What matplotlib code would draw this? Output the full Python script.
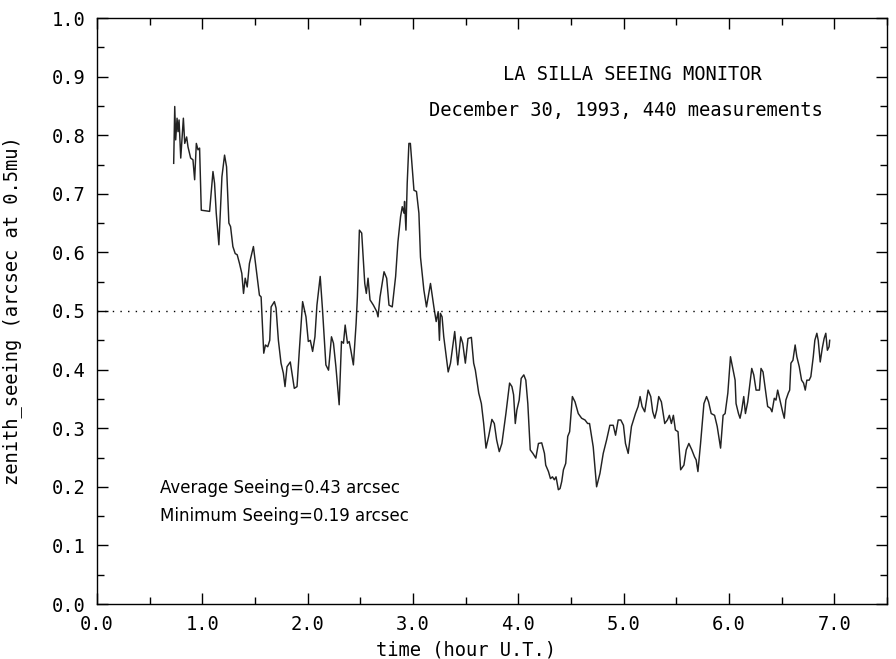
import matplotlib
matplotlib.use('Agg')
import matplotlib.pyplot as plt
from matplotlib.ticker import MultipleLocator
import numpy as np

time_h = [0.728, 0.738, 0.747, 0.760, 0.769, 0.779, 0.795, 0.820, 0.833, 0.851,
          0.864, 0.889, 0.911, 0.927, 0.943, 0.959, 0.974, 0.990, 1.069, 1.101,
          1.116, 1.132, 1.157, 1.186, 1.211, 1.230, 1.252, 1.268, 1.290, 1.312,
          1.331, 1.353, 1.375, 1.391, 1.407, 1.426, 1.447, 1.485, 1.520, 1.542,
          1.558, 1.583, 1.599, 1.621, 1.640, 1.653, 1.684, 1.700, 1.722, 1.747,
          1.769, 1.785, 1.804, 1.835, 1.851, 1.873, 1.899, 1.921, 1.952, 1.984,
          2.006, 2.025, 2.047, 2.069, 2.088, 2.119, 2.141, 2.173, 2.198, 2.226,
          2.245, 2.268, 2.299, 2.321, 2.340, 2.356, 2.378, 2.394, 2.410, 2.434,
          2.460, 2.472, 2.491, 2.513, 2.542, 2.557, 2.573, 2.592, 2.624, 2.656,
          2.668, 2.687, 2.725, 2.750, 2.772, 2.803, 2.835, 2.857, 2.882, 2.898,
          2.914, 2.920, 2.933, 2.945, 2.961, 2.975, 3.009, 3.033, 3.056, 3.071,
          3.103, 3.128, 3.166, 3.198, 3.220, 3.239, 3.251, 3.260, 3.276, 3.292,
          3.308, 3.334, 3.356, 3.396, 3.425, 3.453, 3.472, 3.497, 3.522, 3.554,
          3.576, 3.592, 3.624, 3.649, 3.671, 3.693, 3.718, 3.749, 3.772, 3.794,
          3.819, 3.844, 3.882, 3.917, 3.939, 3.955, 3.971, 3.986, 4.008, 4.027,
          4.052, 4.071, 4.090, 4.113, 4.138, 4.166, 4.191, 4.222, 4.248, 4.260,
          4.286, 4.305, 4.324, 4.342, 4.358, 4.380, 4.396, 4.412, 4.428, 4.450,
          4.469, 4.487, 4.513, 4.538, 4.569, 4.601, 4.633, 4.658, 4.676, 4.711,
          4.743, 4.775, 4.806, 4.838, 4.869, 4.901, 4.923, 4.948, 4.973, 4.998,
          5.017, 5.043, 5.074, 5.112, 5.137, 5.156, 5.175, 5.200, 5.232, 5.257,
          5.276, 5.295, 5.314, 5.333, 5.358, 5.390, 5.415, 5.434, 5.453, 5.472,
          5.491, 5.516, 5.541, 5.572, 5.594, 5.619, 5.647, 5.673, 5.688, 5.705,
          5.730, 5.762, 5.787, 5.806, 5.831, 5.863, 5.888, 5.920, 5.944, 5.963,
          5.989, 6.014, 6.036, 6.058, 6.067, 6.090, 6.105, 6.121, 6.140, 6.156,
          6.178, 6.203, 6.216, 6.235, 6.257, 6.289, 6.304, 6.323, 6.346, 6.367,
          6.393, 6.408, 6.430, 6.446, 6.462, 6.487, 6.509, 6.525, 6.540, 6.563,
          6.576, 6.588, 6.607, 6.628, 6.644, 6.667, 6.689, 6.708, 6.724, 6.739,
          6.761, 6.777, 6.800, 6.815, 6.834, 6.847, 6.866, 6.885, 6.903, 6.919,
          6.934, 6.950, 6.956]
seeing = [0.752, 0.849, 0.792, 0.829, 0.806, 0.826, 0.761, 0.829, 0.786, 0.797,
          0.780, 0.761, 0.758, 0.724, 0.786, 0.775, 0.778, 0.672, 0.670, 0.738,
          0.718, 0.667, 0.613, 0.729, 0.766, 0.746, 0.650, 0.644, 0.610, 0.598,
          0.596, 0.581, 0.564, 0.530, 0.556, 0.541, 0.581, 0.610, 0.559, 0.527,
          0.524, 0.428, 0.442, 0.439, 0.450, 0.507, 0.516, 0.505, 0.450, 0.411,
          0.394, 0.371, 0.405, 0.413, 0.394, 0.368, 0.371, 0.433, 0.516, 0.490,
          0.448, 0.450, 0.431, 0.456, 0.510, 0.559, 0.502, 0.408, 0.399, 0.456,
          0.445, 0.405, 0.340, 0.448, 0.445, 0.476, 0.445, 0.448, 0.433, 0.408,
          0.479, 0.524, 0.638, 0.633, 0.547, 0.530, 0.556, 0.519, 0.510, 0.499,
          0.490, 0.524, 0.567, 0.556, 0.510, 0.507, 0.559, 0.618, 0.661, 0.678,
          0.667, 0.687, 0.638, 0.718, 0.786, 0.786, 0.706, 0.704, 0.667, 0.592,
          0.536, 0.507, 0.547, 0.507, 0.482, 0.499, 0.450, 0.496, 0.490, 0.456,
          0.433, 0.396, 0.411, 0.465, 0.408, 0.456, 0.445, 0.411, 0.453, 0.455,
          0.411, 0.399, 0.360, 0.342, 0.308, 0.266, 0.286, 0.315, 0.308, 0.280,
          0.260, 0.274, 0.325, 0.377, 0.371, 0.357, 0.308, 0.331, 0.348, 0.385,
          0.391, 0.382, 0.342, 0.263, 0.257, 0.249, 0.274, 0.275, 0.257, 0.237,
          0.226, 0.214, 0.217, 0.212, 0.217, 0.195, 0.197, 0.209, 0.229, 0.240,
          0.286, 0.294, 0.354, 0.345, 0.325, 0.317, 0.314, 0.308, 0.308, 0.268,
          0.200, 0.223, 0.257, 0.280, 0.305, 0.305, 0.288, 0.314, 0.314, 0.305,
          0.274, 0.257, 0.303, 0.325, 0.337, 0.354, 0.337, 0.328, 0.365, 0.354,
          0.328, 0.317, 0.331, 0.354, 0.345, 0.308, 0.314, 0.322, 0.308, 0.322,
          0.297, 0.294, 0.229, 0.237, 0.263, 0.274, 0.263, 0.251, 0.246, 0.226,
          0.274, 0.342, 0.354, 0.345, 0.325, 0.322, 0.303, 0.266, 0.322, 0.325,
          0.360, 0.422, 0.402, 0.382, 0.342, 0.325, 0.317, 0.331, 0.354, 0.325,
          0.345, 0.382, 0.402, 0.391, 0.365, 0.365, 0.402, 0.396, 0.365, 0.337,
          0.334, 0.328, 0.351, 0.348, 0.365, 0.345, 0.328, 0.317, 0.348, 0.360,
          0.365, 0.411, 0.416, 0.442, 0.422, 0.405, 0.382, 0.377, 0.365, 0.382,
          0.382, 0.388, 0.422, 0.450, 0.462, 0.450, 0.413, 0.436, 0.453, 0.462,
          0.433, 0.439, 0.450]

x_ticks = [0, 1, 2, 3, 4, 5, 6, 7]
y_ticks = [0.0, 0.1, 0.2, 0.3, 0.4, 0.5, 0.6, 0.7, 0.8, 0.9, 1.0]
reference_seeing = 0.5
title_lines = ['LA SILLA SEEING MONITOR', 'December 30, 1993, 440 measurements']
stats_lines = ['Average Seeing=0.43 arcsec', 'Minimum Seeing=0.19 arcsec']

plt.rcParams['font.family'] = ['DejaVu Sans Mono']
fs = 13.5

fig = plt.figure(figsize=(8.96, 6.59), dpi=100)
ax = fig.add_axes([97 / 896, 55 / 659, 790 / 896, 586 / 659])

ax.plot(time_h, seeing, color='#222222', lw=1.05)
ax.axhline(reference_seeing, color='black', lw=1.0, linestyle=(0, (1, 4.5)))

ax.set_xlim(0, 7.5)
ax.set_ylim(0, 1.0)
ax.set_xticks(x_ticks)
ax.set_xticklabels(['%.1f' % v for v in x_ticks], fontsize=fs)
ax.set_yticks(y_ticks)
ax.set_yticklabels(['%.1f' % v for v in y_ticks], fontsize=fs)
ax.xaxis.set_minor_locator(MultipleLocator(0.5))
ax.yaxis.set_minor_locator(MultipleLocator(0.05))
ax.tick_params(which='both', direction='in', top=True, right=True, width=1.0)
ax.tick_params(which='major', length=8, pad=8)
ax.tick_params(which='minor', length=5)
for sp in ax.spines.values():
    sp.set_linewidth(1.0)

ax.set_xlabel('time (hour U.T.)', fontsize=fs)
ax.xaxis.set_label_coords(3.5 / 7.5, -0.062)
ax.set_ylabel('zenith_seeing (arcsec at 0.5mu)', fontsize=fs)
ax.yaxis.set_label_coords(-0.095, 0.5)

ax.text(0.678, 0.903, title_lines[0], transform=ax.transAxes, ha='center', va='center', fontsize=fs)
ax.text(0.669, 0.843, title_lines[1], transform=ax.transAxes, ha='center', va='center', fontsize=fs)
ax.text(0.080, 0.198, stats_lines[0], transform=ax.transAxes, ha='left', va='center',
        fontsize=12, family='DejaVu Sans')
ax.text(0.080, 0.150, stats_lines[1], transform=ax.transAxes, ha='left', va='center',
        fontsize=12, family='DejaVu Sans')

fig.savefig('out.png', dpi=100)
